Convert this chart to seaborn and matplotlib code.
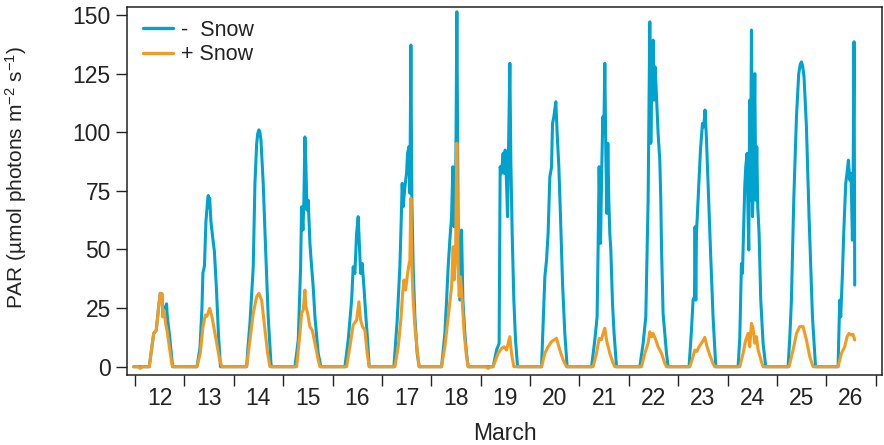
import matplotlib
matplotlib.use("Agg")
import matplotlib.pyplot as plt
import seaborn as sns

# ---- data (time in days of March, PAR) ----
time_minus = [
    11.974, 12.289, 12.379, 12.431, 12.480, 12.512, 12.547, 12.567, 12.590, 12.640, 12.652, 12.702, 12.763,
    13.255, 13.316, 13.356, 13.376, 13.407, 13.437, 13.468, 13.484, 13.498, 13.512, 13.538, 13.569, 13.609, 13.650, 13.690, 13.731,
    14.261, 14.287, 14.328, 14.395, 14.429, 14.464, 14.486, 14.510, 14.530, 14.551, 14.597, 14.646, 14.698, 14.753, 14.767,
    15.239, 15.306, 15.354, 15.374, 15.401, 15.421, 15.441, 15.462, 15.482, 15.508, 15.543, 15.577, 15.609, 15.644, 15.710, 15.765,
    16.251, 16.318, 16.387, 16.419, 16.453, 16.488, 16.520, 16.540, 16.569, 16.601, 16.636, 16.676, 16.710, 16.743,
    17.243, 17.310, 17.364, 17.384, 17.411, 17.431, 17.466, 17.500, 17.520, 17.547, 17.567, 17.587, 17.607, 17.633, 17.668, 17.714, 17.755,
    18.208, 18.275, 18.310, 18.342, 18.376, 18.411, 18.437, 18.463, 18.492, 18.518, 18.545, 18.579, 18.613, 18.640, 18.680, 18.714, 18.747,
    19.253, 19.322, 19.374, 19.395, 19.423, 19.455, 19.476, 19.496, 19.524, 19.544, 19.571, 19.591, 19.611, 19.638, 19.672, 19.706, 19.747,
    20.233, 20.300, 20.334, 20.366, 20.401, 20.435, 20.455, 20.482, 20.522, 20.549, 20.583, 20.617, 20.658, 20.704, 20.751,
    21.245, 21.312, 21.358, 21.378, 21.399, 21.427, 21.453, 21.474, 21.494, 21.514, 21.534, 21.555, 21.575, 21.595, 21.615, 21.636, 21.670, 21.702, 21.751,
    22.223, 22.290, 22.344, 22.391, 22.411, 22.425, 22.445, 22.466, 22.492, 22.512, 22.532, 22.561, 22.593, 22.628, 22.648, 22.662, 22.694, 22.763, 22.796,
    23.220, 23.269, 23.301, 23.330, 23.342, 23.356, 23.370, 23.403, 23.451, 23.492, 23.518, 23.544, 23.573, 23.605, 23.654, 23.706, 23.761,
    24.213, 24.247, 24.281, 24.301, 24.348, 24.368, 24.395, 24.415, 24.429, 24.449, 24.463, 24.484, 24.504, 24.524, 24.551, 24.571, 24.591, 24.611, 24.638, 24.672, 24.719, 24.773,
    25.225, 25.259, 25.293, 25.340, 25.395, 25.441, 25.472, 25.496, 25.522, 25.548, 25.597, 25.650, 25.719, 25.781,
    26.237, 26.271, 26.291, 26.326, 26.352, 26.393, 26.419, 26.447, 26.474, 26.500, 26.528, 26.540, 26.561, 26.575,
]
par_minus = [
    0, 0, 14.2, 15.6, 25.6, 31.3, 31.0, 21.3, 24.0, 26.8, 22.0, 12.8, 0,
    0, 8, 25, 40, 43, 62, 70, 73, 68, 72, 62, 56, 49, 33, 14, 0,
    0, 8, 18.5, 42.6, 78, 95, 99.5, 101, 100, 96.7, 78, 49.8, 21.3, 1.5, 0,
    0, 11.4, 42.6, 68.2, 58.3, 71, 98, 85.3, 66.8, 71, 52.6, 42.6, 34.1, 21.3, 5.7, 0,
    0, 11.4, 28.4, 42.6, 39.8, 56.9, 64, 54, 39.8, 44, 34, 21.3, 11.4, 0,
    0, 19.9, 42.6, 56.9, 78.2, 68.2, 76.8, 82.5, 91, 93.8, 74, 137.2, 71, 42.6, 21.3, 5.7, 0,
    0, 14.2, 28.4, 42.6, 54, 64, 85.3, 59.7, 68.2, 151.4, 57, 28.4, 58.3, 28.4, 14.2, 5.7, 0,
    0, 7.1, 10, 85.3, 82.5, 91, 82.5, 92.4, 78.2, 64, 102.3, 129.4, 88.1, 56.9, 28.4, 11.4, 0,
    0, 38.4, 45.5, 57, 81, 85, 103.8, 106.6, 113, 99.5, 85.3, 64, 35.6, 14.2, 0,
    0, 11.4, 21.3, 49.8, 85.3, 52.6, 85.3, 106.6, 99.5, 129.4, 92.4, 65.4, 95.3, 71, 56.9, 49.8, 27, 14.2, 0,
    0, 10, 21.3, 71, 113.7, 147.1, 95.3, 120.8, 139.3, 113.7, 127.9, 115.1, 99.5, 88.1, 71, 51.2, 22.8, 5.7, 0,
    0, 15.6, 28.4, 29.9, 59.7, 28.4, 56.9, 71, 92.4, 103.8, 102.3, 109.5, 96.7, 78.2, 49.8, 21.3, 0,
    0, 12, 44, 39.8, 76.8, 85.3, 91, 64, 49.8, 113.7, 71, 143.6, 64, 78.2, 125, 71, 93.8, 68.2, 56.9, 28.4, 10, 0,
    0, 12, 28.4, 71, 106.6, 125, 129, 130, 128, 123.7, 102.3, 64, 21.3, 0,
    0, 28.4, 21.3, 39.8, 56.9, 78.2, 82.5, 88.1, 79.6, 82.5, 54, 74, 138.6, 34.8,
]

time_plus = [
    11.974, 12.060, 12.107, 12.150, 12.289, 12.379, 12.431, 12.480, 12.512, 12.547, 12.567, 12.590, 12.620, 12.648, 12.749, 12.769,
    13.255, 13.322, 13.376, 13.423, 13.457, 13.512, 13.559, 13.625, 13.715, 13.761,
    14.261, 14.328, 14.395, 14.464, 14.510, 14.565, 14.617, 14.686, 14.733,
    15.273, 15.340, 15.374, 15.407, 15.441, 15.462, 15.496, 15.543, 15.589, 15.644, 15.710, 15.745,
    16.285, 16.352, 16.419, 16.488, 16.534, 16.569, 16.609, 16.656, 16.702, 16.743,
    17.263, 17.330, 17.384, 17.419, 17.445, 17.480, 17.512, 17.540, 17.567, 17.587, 17.607, 17.633, 17.674, 17.723, 17.755,
    18.208, 18.275, 18.342, 18.411, 18.443, 18.463, 18.492, 18.518, 18.545, 18.565, 18.593, 18.625, 18.666, 18.714, 18.747,
    19.100, 19.152, 19.200,
    19.253, 19.354, 19.423, 19.476, 19.524, 19.591, 19.625, 19.672,
    20.233, 20.300, 20.366, 20.435, 20.536, 20.603, 20.670, 20.738,
    21.277, 21.346, 21.399, 21.443, 21.480, 21.514, 21.548, 21.615, 21.682, 21.717,
    22.257, 22.324, 22.391, 22.425, 22.459, 22.492, 22.547, 22.593, 22.662, 22.729, 22.763,
    23.235, 23.301, 23.336, 23.376, 23.423, 23.492, 23.538, 23.585, 23.640, 23.706, 23.741,
    24.247, 24.314, 24.368, 24.415, 24.449, 24.484, 24.516, 24.551, 24.585, 24.619, 24.686, 24.719,
    25.245, 25.326, 25.395, 25.461, 25.528, 25.597, 25.664, 25.731,
    26.237, 26.305, 26.372, 26.419, 26.460, 26.508, 26.540, 26.575,
]
par_plus = [
    0, 0, -0.7, 0, 0, 14.2, 15.6, 25.6, 31.3, 31.0, 21.3, 24.0, 18.5, 15.6, 0.7, 0,
    0, 5.7, 17, 22, 21.5, 24.9, 21.3, 13.5, 2.9, 0,
    0, 11.4, 22.8, 29.9, 31.3, 28.4, 18.5, 5.7, 0,
    0, 14.2, 22.8, 24.2, 32.7, 25.6, 22.8, 17, 15.6, 10, 2.9, 0,
    0, 8.5, 17.8, 19.9, 27.7, 19.9, 17, 15.6, 5.7, 0,
    0, 8.5, 19.9, 31.3, 37, 32.7, 38.4, 42.6, 45.5, 71.8, 42.6, 28.4, 15.6, 5.7, 0,
    0, 8.5, 21.3, 34.1, 51.2, 37, 48.4, 95.3, 42.6, 29.9, 38.4, 28.4, 14.2, 4.3, 0,
    0, -0.7, 0,
    0, 5.7, 7.8, 8.5, 7.1, 12.8, 5.7, 0,
    0, 5.7, 8.5, 10.7, 12.1, 7.1, 2.9, 0,
    0, 5.7, 12.1, 11.5, 14.2, 16.4, 11.4, 5.7, 1.5, 0,
    0, 5.7, 10, 14.9, 12.8, 14.2, 11.4, 8.5, 5.7, 1.4, 0,
    0, 4.3, 7.1, 6.5, 8.5, 10.7, 12.5, 8.5, 5, 1.4, 0,
    0, 5.7, 11.4, 14.2, 8.5, 18.5, 16.4, 10, 12.8, 7.1, 2.1, 0,
    0, 7.1, 14.2, 17.1, 17.1, 11.4, 4.3, 0,
    0, 5.7, 8.5, 12.8, 14.2, 13.5, 13.8, 11.4,
]

day_bounds = list(range(12, 28))
day_labels = [str(d) for d in range(12, 27)]
y_ticks = [0, 25, 50, 75, 100, 125, 150]
series_labels = ["-  Snow", "+ Snow"]

# ---- style ----
sns.set_style("ticks")
plt.rcParams["font.family"] = ["Liberation Sans", "DejaVu Sans"]
plt.rcParams["mathtext.fontset"] = "custom"
plt.rcParams["mathtext.rm"] = "Liberation Sans"
plt.rcParams["mathtext.it"] = "Liberation Sans:italic"
plt.rcParams["mathtext.bf"] = "Liberation Sans:bold"

blue = "#00A2CE"
orange = "#F09B22"
spine_col = "#222222"
text_col = "#222222"
fs = 16.5

fig = plt.figure(figsize=(8.84, 4.45), dpi=100)
ax = fig.add_axes([0.1442, 0.1573, 0.8532, 0.8263])

sns.lineplot(x=time_minus, y=par_minus, ax=ax, color=blue, linewidth=2.2,
             estimator=None, sort=False, label=series_labels[0])
sns.lineplot(x=time_plus, y=par_plus, ax=ax, color=orange, linewidth=2.2,
             estimator=None, sort=False, label=series_labels[1])

ax.set_xlim(11.848, 27.121)
ax.set_ylim(-3.54, 153.3)

ax.set_xticks(day_bounds)
ax.set_xticklabels([])
ax.set_xticks([d + 0.5 for d in range(12, 27)], minor=True)
ax.set_xticklabels(day_labels, minor=True)
ax.tick_params(axis="x", which="major", direction="out", length=8, width=1.0,
               color=spine_col)
ax.tick_params(axis="x", which="minor", length=0, pad=8.5, labelsize=fs,
               labelcolor=text_col)
ax.set_yticks(y_ticks)
ax.set_yticklabels([str(v) for v in y_ticks])
ax.tick_params(axis="y", which="major", direction="out", length=8, width=1.0,
               color=spine_col, pad=4.0, labelsize=fs, labelcolor=text_col)

for s in ax.spines.values():
    s.set_visible(True)
    s.set_color(spine_col)
    s.set_linewidth(1.1)

ax.set_xlabel("March", fontsize=fs, color=text_col)
ax.xaxis.set_label_coords(0.5, -0.128)
ax.set_ylabel("PAR (µmol photons m$^{-2}$ s$^{-1}$)", fontsize=15, color=text_col)
ax.yaxis.set_label_coords(-0.131, 0.537)

leg = ax.legend(loc="upper left", bbox_to_anchor=(0.0202, 0.966), frameon=False,
                fontsize=15.5, handlelength=1.4, handletextpad=0.38,
                borderpad=0, borderaxespad=0, labelspacing=0.17)
for line in leg.get_lines():
    line.set_linewidth(2.4)
for t in leg.get_texts():
    t.set_color(text_col)

fig.savefig("out.png", dpi=100)
